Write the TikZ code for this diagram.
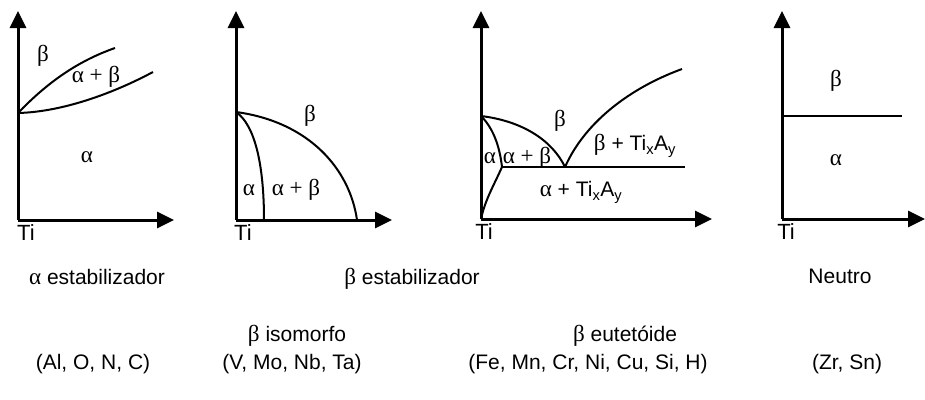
\documentclass[tikz,border=0pt]{standalone}
\usepackage{fontspec}
\setmainfont{Liberation Sans}
\newfontfamily\gr{Liberation Serif}[Scale=1.1]
\usetikzlibrary{arrows.meta}
\tikzset{
  axis/.style={line width=3pt,-{Triangle[length=17pt,width=16pt]}},
  curve/.style={line width=2pt},
  lbl/.style={inner sep=0pt,font=\fontsize{21}{25}\selectfont,text height=1.4ex,text depth=0.3ex},
  captxt/.style={inner sep=0pt,font=\fontsize{21}{25}\selectfont,text height=1.5ex,text depth=0.35ex},
  tilbl/.style={inner sep=0pt,anchor=north,font=\fontsize{22}{26}\selectfont}
}
\newcommand{\ga}{{\gr α}}
\newcommand{\gb}{{\gr β}}
\begin{document}
\begin{tikzpicture}[x=1pt,y=-1pt]
\useasboundingbox (0,0) rectangle (925,399);
% ---- diagram 1
\coordinate (o1) at (18,220);
\coordinate (t1) at (18,11);
\coordinate (r1) at (174,220);
\coordinate (s1) at (18,113);
\coordinate (u1) at (115,48);
\coordinate (l1) at (153,72);
\draw[axis] (o1) -- (t1);
\draw[axis] (o1) -- (r1);
\draw[curve] (s1) .. controls (45,85) and (75,62) .. (u1);
\draw[curve] (s1) .. controls (60,112) and (110,95) .. (l1);
\node[lbl] (b1) at (43,59) {\gb};
\node[lbl] (ab1) at (96,80) {\gr α + β};
\node[lbl] (a1) at (87,160) {\ga};
\node[tilbl] (ti1) at (26,224) {Ti};
% ---- diagram 2
\coordinate (o2) at (236,220);
\coordinate (t2) at (236,11);
\coordinate (r2) at (392,220);
\coordinate (s2) at (236,112);
\coordinate (e2) at (357,220);
\coordinate (i2) at (264,220);
\draw[curve] (s2) .. controls (310,122) and (350,170) .. (e2);
\draw[curve] (s2) .. controls (255,125) and (264,165) .. (i2);
\draw[axis] (o2) -- (t2);
\draw[axis] (o2) -- (r2);
\node[lbl] (b2) at (310,119) {\gb};
\node[lbl] (a2) at (249,193) {\ga};
\node[lbl] (ab2) at (296,193) {\gr α + β};
\node[tilbl] (ti2) at (243,224) {Ti};
% ---- diagram 3
\coordinate (o3) at (481,219);
\coordinate (t3) at (481,11);
\coordinate (r3) at (712,219);
\coordinate (s3) at (481,116);
\coordinate (e3) at (565,167);
\coordinate (j3) at (502,167);
\coordinate (q3) at (682,69);
\coordinate (h3) at (685,167);
\draw[curve] (s3) .. controls (522,121) and (552,140) .. (e3);
\draw[curve] (e3) .. controls (585,122) and (630,88) .. (q3);
\draw[curve] (s3) .. controls (495,130) and (500,150) .. (j3);
\draw[curve] (j3) .. controls (494,185) and (485,200) .. (o3);
\draw[curve] (j3) -- (h3);
\draw[axis] (o3) -- (t3);
\draw[axis] (o3) -- (r3);
\node[lbl] (b3) at (560,124) {\gb};
\node[lbl] (bt3) at (635,148) {\gb{} + Ti\textsubscript{x}A\textsubscript{y}};
\node[lbl] (a3) at (490,161) {\ga};
\node[lbl] (ab3) at (527,161) {\gr α + β};
\node[lbl] (at3) at (581,194) {\ga{} + Ti\textsubscript{x}A\textsubscript{y}};
\node[tilbl] (ti3) at (484,223) {Ti};
% ---- diagram 4
\coordinate (o4) at (782,219);
\coordinate (t4) at (782,11);
\coordinate (r4) at (925,219);
\coordinate (s4) at (782,116);
\coordinate (e4) at (902,116);
\draw[curve] (s4) -- (e4);
\draw[axis] (o4) -- (t4);
\draw[axis] (o4) -- (r4);
\node[lbl] (b4) at (836,84) {\gb};
\node[lbl] (a4) at (836,163) {\ga};
\node[tilbl] (ti4) at (786,223) {Ti};
% ---- captions
\node[captxt] (c1) at (97,281) {\ga{} estabilizador};
\node[captxt] (c2) at (412,281) {\gb{} estabilizador};
\node[captxt] (c3) at (840,280) {Neutro};
\node[captxt] (c4) at (297,338) {\gb{} isomorfo};
\node[captxt] (c5) at (625,338) {\gb{} eutetóide};
\node[captxt] (c6) at (93,366) {(Al, O, N, C)};
\node[captxt] (c7) at (292,366) {(V, Mo, Nb, Ta)};
\node[captxt] (c8) at (588,366) {(Fe, Mn, Cr, Ni, Cu, Si, H)};
\node[captxt] (c9) at (847,366) {(Zr, Sn)};
\end{tikzpicture}
\end{document}
